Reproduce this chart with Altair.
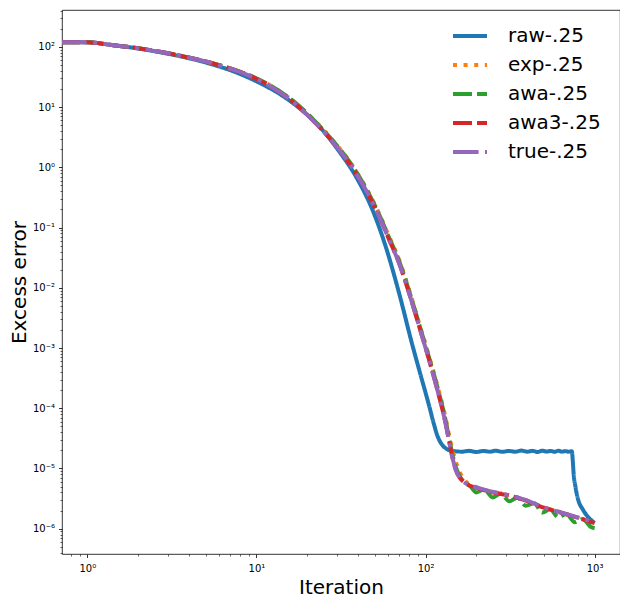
import altair as alt
import pandas as pd

SERIES = ["raw-.25", "exp-.25", "awa-.25", "awa3-.25", "true-.25"]
COLORS = ["#1f77b4", "#ff7f0e", "#2ca02c", "#d62728", "#9467bd"]
DASHES = [[1, 0], [4, 6.6], [19, 5], [19, 5], [25.6, 6.4, 4, 6.4]]

# raw
RAW_IT = [0.7, 1, 1.36, 1.71, 2.14, 2.68, 3.37, 4.22, 5.29, 6.63, 8.0, 10.4, 13.7, 17.9,
          23.6, 30.9, 38.8, 48.6, 58.2, 69.8, 83.6, 92, 105, 112, 118, 125, 132, 140,
          150, 165, 180, 200, 220, 240, 260, 285, 310, 340, 370, 400, 430, 460, 490,
          520, 550, 580, 610, 640, 670, 700, 734, 742, 752, 770, 800, 850, 900, 1000]
RAW_VAL = [120, 120, 108.4, 100, 91.2, 81.7, 72.0, 62.4, 52.7, 43.3, 35.5, 25.4, 16.6,
           9.66, 4.73, 1.83, 0.70, 0.196, 0.048, 8.1e-3, 1.12e-3, 4.2e-4, 1.1e-4, 5.5e-5,
           3.4e-5, 2.5e-5, 2.15e-5, 1.98e-5, 1.93e-5, 1.9e-5, 1.96e-5, 1.88e-5, 1.95e-5,
           1.9e-5, 1.97e-5, 1.89e-5, 1.95e-5, 1.9e-5, 1.98e-5, 1.9e-5, 1.96e-5, 1.88e-5,
           1.97e-5, 1.91e-5, 1.95e-5, 1.89e-5, 1.97e-5, 1.9e-5, 1.94e-5, 1.9e-5, 1.93e-5,
           1.4e-5, 8e-6, 5e-6, 3e-6, 2.1e-6, 1.65e-6, 1.25e-6]

# shared iterations for the averaged estimators
AVG_IT = [0.7, 1, 1.36, 1.71, 2.14, 2.68, 3.37, 4.22, 5.29, 6.63, 7.96, 10.4, 12.5, 16.4,
          21.5, 28.2, 35.4, 44.4, 53.2, 60.9, 69.8, 80, 91.6, 105, 120, 131.6, 138, 144,
          151, 160, 172.6, 206.6, 247.8, 310.6, 390, 488.7, 612.6, 768.7, 963, 1000]
TRUE_VAL = [120, 120, 108.4, 100.5, 92.3, 82.8, 73.5, 64.3, 55.0, 45.7, 38.5, 27.9, 21.0,
            12.3, 6.1, 2.67, 1.17, 0.42, 0.152, 0.063, 0.0255, 8.1e-3, 2.3e-3, 6.3e-4,
            1.6e-4, 5.5e-5, 2.8e-5, 1.55e-5, 9.5e-6, 6.9e-6, 5.7e-6, 4.7e-6, 4.1e-6,
            3.6e-6, 3.0e-6, 2.31e-6, 1.91e-6, 1.58e-6, 1.30e-6, 1.25e-6]
AWA3_VAL = [120, 120, 108.4, 100.5, 92.3, 82.8, 73.5, 64.3, 55.0, 45.7, 38.5, 27.9, 21.0,
            12.3, 6.1, 2.67, 1.17, 0.42, 0.152, 0.063, 0.0255, 8.1e-3, 2.3e-3, 6.3e-4,
            1.6e-4, 5.5e-5, 2.8e-5, 1.55e-5, 9.5e-6, 6.9e-6, 5.7e-6, 4.65e-6, 4.0e-6,
            3.55e-6, 2.95e-6, 2.28e-6, 1.9e-6, 1.56e-6, 1.28e-6, 1.24e-6]
EXP_VAL = [120, 120, 108.4, 100.5, 92.3, 82.8, 73.5, 64.3, 55.0, 46.0, 39.0, 28.5, 21.6,
           12.8, 6.4, 2.85, 1.27, 0.46, 0.17, 0.071, 0.029, 9.2e-3, 2.6e-3, 7.2e-4,
           1.9e-4, 6.8e-5, 3.5e-5, 2.1e-5, 1.3e-5, 8.5e-6, 6.1e-6, 4.75e-6, 4.1e-6,
           3.6e-6, 3.0e-6, 2.31e-6, 1.91e-6, 1.58e-6, 1.30e-6, 1.25e-6]

AWA_IT = [0.7, 1, 1.36, 1.71, 2.14, 2.68, 3.37, 4.22, 5.29, 6.63, 7.96, 10.4, 12.5, 16.4,
          21.5, 28.2, 35.4, 44.4, 53.2, 60.9, 69.8, 80, 91.6, 105, 120, 131.6, 138, 144,
          151, 160, 172.6, 185, 200, 222, 250, 278, 313, 350, 391, 440, 489, 545, 611,
          680, 764, 850, 955, 1000]
AWA_VAL = [120, 120, 108.4, 100.5, 92.3, 82.8, 73.5, 64.3, 55.0, 46.0, 39.0, 28.5, 21.6,
           12.8, 6.4, 2.8, 1.25, 0.45, 0.165, 0.068, 0.028, 8.8e-3, 2.5e-3, 6.9e-4,
           1.8e-4, 6.2e-5, 3.1e-5, 1.75e-5, 1.05e-5, 7.3e-6, 5.7e-6, 5.0e-6, 4.0e-6,
           4.5e-6, 3.3e-6, 3.85e-6, 2.85e-6, 3.3e-6, 2.4e-6, 2.65e-6, 1.85e-6, 2.1e-6,
           1.55e-6, 1.75e-6, 1.28e-6, 1.45e-6, 1.06e-6, 1.02e-6]

X_MAJOR = [1, 10, 100, 1000]
X_MINOR = [0.8, 0.9] + [m * d for d in (1, 10, 100) for m in range(2, 10)]
Y_MAJOR = [1e-6, 1e-5, 1e-4, 1e-3, 1e-2, 1e-1, 1, 10, 100]
Y_MINOR = [m * 1e-7 for m in range(4, 10)] + [m * d for d in
           (1e-6, 1e-5, 1e-4, 1e-3, 1e-2, 1e-1, 1, 10, 100) for m in range(2, 10)
           if m * d < 410]

rows = []
for name, its, vals in [
    (SERIES[0], RAW_IT, RAW_VAL),
    (SERIES[1], AVG_IT, EXP_VAL),
    (SERIES[2], AWA_IT, AWA_VAL),
    (SERIES[3], AVG_IT, AWA3_VAL),
    (SERIES[4], AVG_IT, TRUE_VAL),
]:
    for i, (it, v) in enumerate(zip(its, vals)):
        rows.append({"series": name, "iteration": it, "error": v, "k": i})
df = pd.DataFrame(rows)

XDOM = [0.708, 1413]
YDOM = [3.8e-7, 410]
FONT = "DejaVu Sans"
SUP = "['⁻⁶','⁻⁵','⁻⁴','⁻³','⁻²','⁻¹','⁰','¹','²','³']"
LABEL_EXPR = "'10' + " + SUP + "[round(log(datum.value)/LN10)+6]"

LEG = dict(title=None, orient="none", legendX=389, legendY=7,
           labelFontSize=20, labelFont=FONT, labelColor="black",
           symbolType="stroke", symbolStrokeWidth=4, symbolSize=1156,
           labelOffset=19, rowPadding=0)

lines = alt.Chart(df).mark_line(clip=True, strokeWidth=4, interpolate="monotone").encode(
    x=alt.X("iteration:Q",
            scale=alt.Scale(type="log", domain=XDOM, nice=False),
            axis=alt.Axis(values=X_MAJOR, labelExpr=LABEL_EXPR, title="Iteration",
                          orient="bottom", grid=False, domain=False,
                          tickSize=3.5, tickWidth=0.8, tickColor="black",
                          labelFontSize=10, labelFont=FONT, labelColor="black",
                          labelPadding=5.5, labelFlush=False,
                          titleFontSize=20, titleFont=FONT, titleFontWeight="normal",
                          titleColor="black", titleBaseline="alphabetic", titleY=39)),
    y=alt.Y("error:Q",
            scale=alt.Scale(type="log", domain=YDOM, nice=False),
            axis=alt.Axis(values=Y_MAJOR, labelExpr=LABEL_EXPR, title="Excess error",
                          orient="left", grid=False, domain=False,
                          tickSize=3.5, tickWidth=0.8, tickColor="black",
                          labelFontSize=10, labelFont=FONT, labelColor="black",
                          labelPadding=4, labelFlush=False,
                          titleFontSize=20, titleFont=FONT, titleFontWeight="normal",
                          titleColor="black", titleBaseline="alphabetic", titleX=-37)),
    color=alt.Color("series:N", scale=alt.Scale(domain=SERIES, range=COLORS),
                    legend=alt.Legend(**LEG)),
    strokeDash=alt.StrokeDash("series:N", scale=alt.Scale(domain=SERIES, range=DASHES),
                              legend=alt.Legend(**LEG)),
    order="k:Q",
)

minor = alt.Chart(pd.DataFrame({"iteration": [10], "error": [1]})).mark_point(opacity=0).encode(
    x=alt.X("iteration:Q", scale=alt.Scale(type="log", domain=XDOM, nice=False),
            axis=alt.Axis(values=X_MINOR, labels=False, title=None, orient="bottom",
                          grid=False, domain=False, tickSize=2, tickWidth=0.6,
                          tickColor="black")),
    y=alt.Y("error:Q", scale=alt.Scale(type="log", domain=YDOM, nice=False),
            axis=alt.Axis(values=Y_MINOR, labels=False, title=None, orient="left",
                          grid=False, domain=False, tickSize=2, tickWidth=0.6,
                          tickColor="black")),
)

chart = alt.layer(lines, minor).resolve_axis(x="independent", y="independent").properties(
    width=558, height=544,
    autosize=alt.AutoSizeParams(type="none"),
    padding={"left": 54, "top": 2, "right": 0, "bottom": 43},
    background="white",
).configure_view(stroke="black", strokeWidth=0.8)

chart.save("out.html", embed_options={"renderer": "svg", "actions": False})
